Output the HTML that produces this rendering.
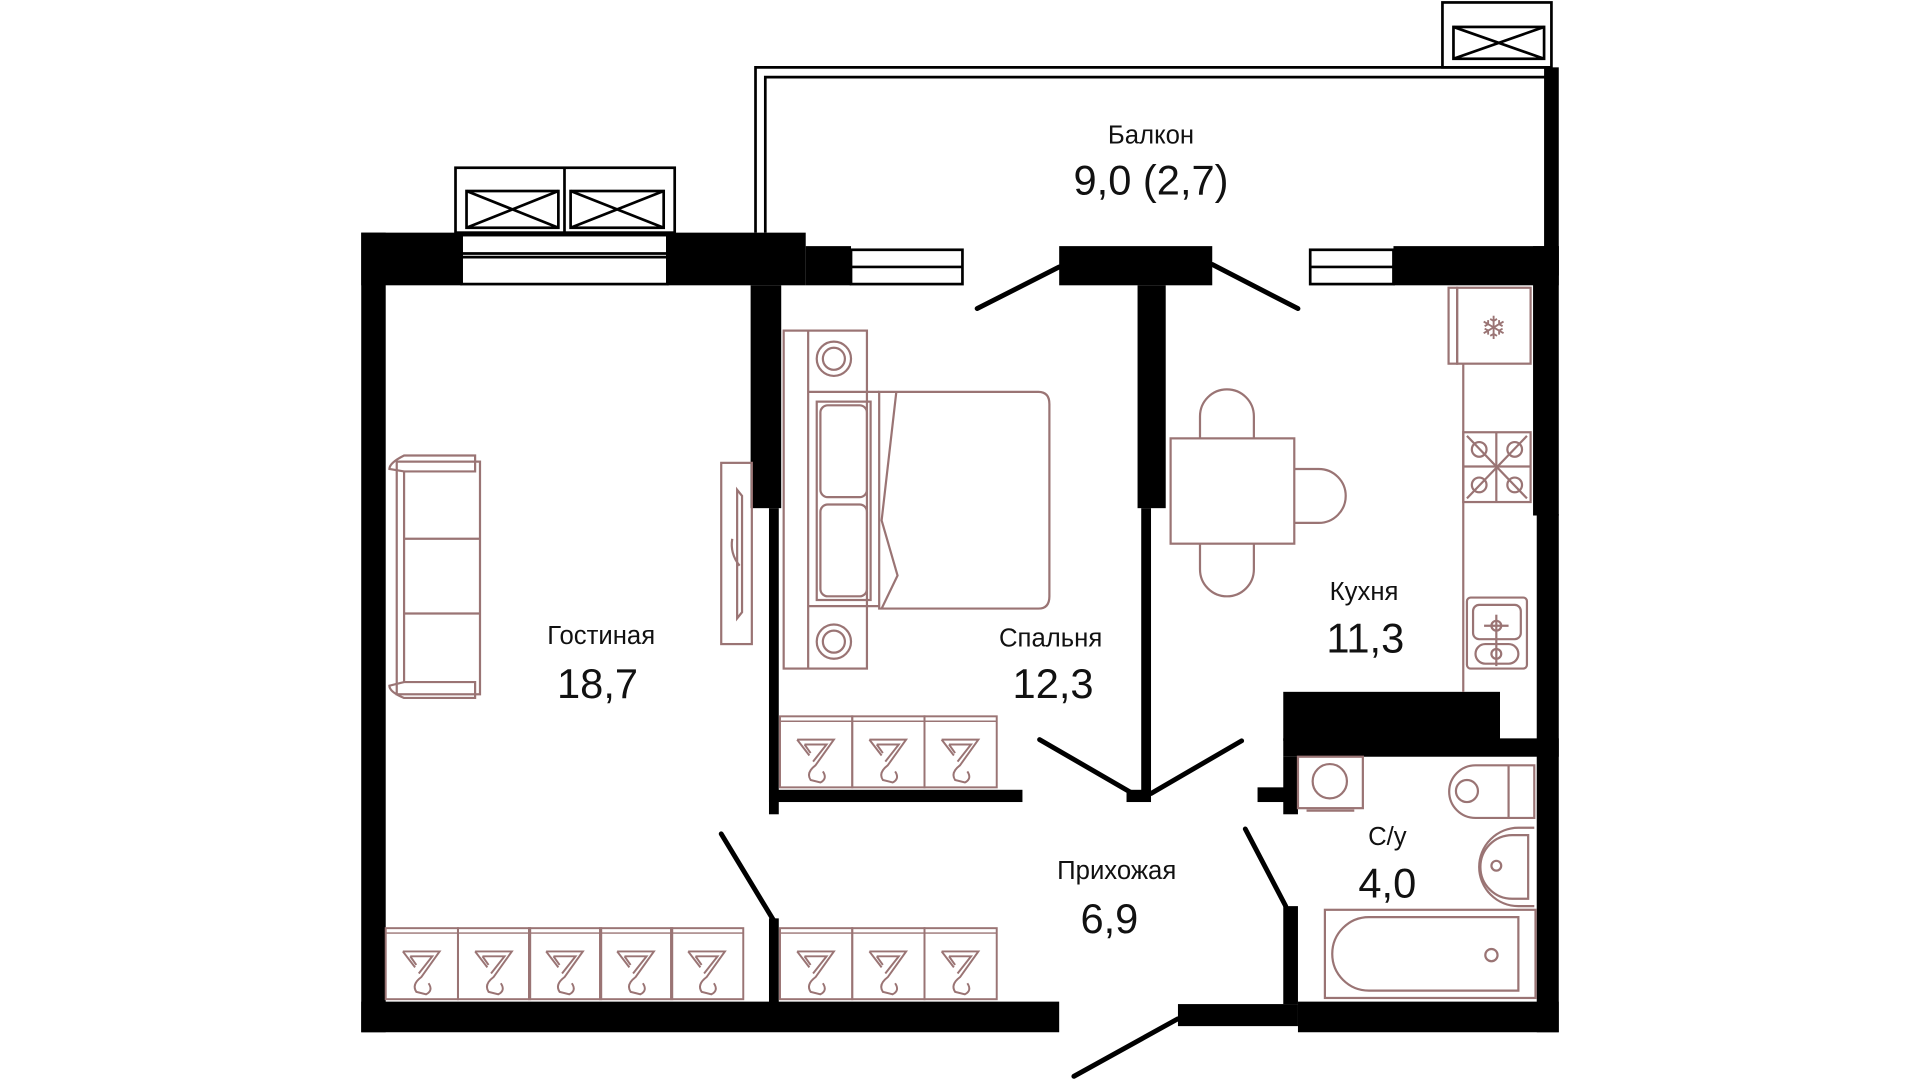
<!DOCTYPE html>
<html><head><meta charset="utf-8"><style>
html,body{margin:0;padding:0;background:#fff;}
svg{display:block;}
text{font-family:"Liberation Sans","DejaVu Sans",sans-serif;fill:#111;}
</style></head><body>
<svg width="1920" height="1080" viewBox="0 0 1568 882" xmlns="http://www.w3.org/2000/svg">
<defs>
<g id="hg" fill="none" stroke="#9a7474" stroke-width="1.6">
<path d="M14,13 H44 L29,34 Q21,40 25,46 L33,48 Q39,45 35,39"/>
<path d="M14,13 L24,26"/>
<path d="M20,17 H38 L27,31 M20,17 L25,24"/>
</g>
<g id="cell"><rect x="0" y="0" width="59" height="58" fill="none" stroke="#9a7474" stroke-width="1.6"/><line x1="0" y1="4" x2="59" y2="4" stroke="#9a7474" stroke-width="1.2"/><use href="#hg" x="0" y="6"/></g>
</defs>

<g fill="none" stroke="#000" stroke-width="2.2">
<path d="M617,190 V55 H1262"/>
<path d="M625,190 V63 H1262"/>
<rect x="1178" y="2" width="89" height="53"/>
<rect x="1187" y="22" width="74" height="26"/>
<path d="M1187,22 L1261,48 M1261,22 L1187,48"/>
<rect x="372" y="137" width="179" height="53"/>
<line x1="461" y1="137" x2="461" y2="190"/>
<rect x="381" y="156" width="75" height="30"/>
<rect x="466" y="156" width="76" height="30"/>
<path d="M381,156 L456,186 M456,156 L381,186 M466,156 L542,186 M542,156 L466,186"/>
<rect x="377" y="192" width="168" height="40"/>
<line x1="377" y1="207" x2="545" y2="207"/><line x1="377" y1="210" x2="545" y2="210"/>
<rect x="695" y="204" width="91" height="28"/><line x1="695" y1="218" x2="786" y2="218"/>
<rect x="1070" y="204" width="68" height="28"/><line x1="1070" y1="218" x2="1138" y2="218"/>
</g>
<rect x="1261" y="55" width="12" height="170" fill="#000"/>

<g fill="#000">
<rect x="295" y="190" width="20" height="653"/>
<rect x="295" y="190" width="82" height="43"/>
<rect x="545" y="190" width="113" height="43"/>
<rect x="658" y="201" width="37" height="32"/>
<rect x="613" y="233" width="25" height="182"/>
<rect x="628" y="415" width="8" height="250"/>
<rect x="628" y="645" width="207" height="10"/>
<rect x="865" y="201" width="125" height="32"/>
<rect x="929" y="233" width="23" height="182"/>
<rect x="932" y="415" width="8" height="235"/>
<rect x="920" y="645" width="20" height="10"/>
<rect x="1138" y="201" width="135" height="32"/>
<rect x="1252" y="201" width="21" height="220"/>
<rect x="1255" y="420" width="18" height="423"/>
<rect x="1048" y="565" width="177" height="40"/>
<rect x="1048" y="603" width="225" height="15"/>
<rect x="1048" y="618" width="12" height="47"/>
<rect x="1027" y="643" width="33" height="12"/>
<rect x="1048" y="740" width="12" height="80"/>
<rect x="1060" y="818" width="213" height="25"/>
<rect x="962" y="820" width="98" height="18"/>
<rect x="295" y="818" width="570" height="25"/>
<rect x="628" y="750" width="8" height="70"/>
</g>
<g stroke="#000" stroke-width="4" stroke-linecap="round">
<line x1="865" y1="218" x2="798" y2="252"/>
<line x1="990" y1="216" x2="1060" y2="252"/>
<line x1="849" y1="604" x2="925" y2="648"/>
<line x1="940" y1="648" x2="1014" y2="605"/>
<line x1="589" y1="681" x2="632" y2="752"/>
<line x1="1017" y1="677" x2="1050" y2="740"/>
<line x1="962" y1="832" x2="877" y2="879"/>
</g>

<g fill="none" stroke="#9a7474" stroke-width="1.8">
<rect x="324" y="377" width="68" height="190"/>
<path d="M318,383 Q318,378 330,372 L388,372 L388,385 L330,385 Z"/>
<path d="M318,560 Q318,565 330,570 L388,570 L388,557 L330,557 Z"/>
<line x1="330" y1="385" x2="330" y2="557"/>
<line x1="330" y1="440" x2="392" y2="440"/><line x1="330" y1="501" x2="392" y2="501"/>
<rect x="589" y="378" width="25" height="148"/>
<path d="M602,400 L606,405 L606,500 L602,505 Z"/>
<path d="M598,440 Q596,452 604,462"/>
<rect x="640" y="270" width="68" height="276"/>
<line x1="660" y1="270" x2="660" y2="546"/>
<line x1="660" y1="320" x2="718" y2="320"/><line x1="660" y1="495" x2="718" y2="495"/>
<circle cx="681" cy="293" r="14"/><circle cx="681" cy="293" r="9"/>
<circle cx="681" cy="524" r="14"/><circle cx="681" cy="524" r="9"/>
<path d="M718,320 H848 Q857,320 857,330 V487 Q857,497 848,497 H718 Z"/>
<rect x="667" y="328" width="44" height="162"/>
<rect x="670" y="331" width="38" height="75" rx="6"/>
<rect x="670" y="412" width="38" height="75" rx="6"/>
<path d="M732,320 L720,425 L733,470 L720,497"/>
<rect x="956" y="358" width="101" height="86"/>
<path d="M980,358 V340 A22,22 0 0 1 1024,340 V358"/>
<path d="M980,444 V465 A22,22 0 0 0 1024,465 V444"/>
<path d="M1057,383 H1077 A22,22 0 0 1 1077,427 H1057"/>
<rect x="1190" y="235" width="60" height="62"/>
<rect x="1183" y="235" width="7" height="62"/>
<line x1="1195" y1="297" x2="1195" y2="565"/>
<rect x="1195" y="353" width="55" height="57"/>
<line x1="1222" y1="353" x2="1222" y2="410"/><line x1="1195" y1="381" x2="1250" y2="381"/>
<circle cx="1208" cy="367" r="6"/><circle cx="1237" cy="367" r="6"/><circle cx="1208" cy="396" r="6"/><circle cx="1237" cy="396" r="6"/>
<line x1="1198" y1="356" x2="1247" y2="407"/><line x1="1247" y1="356" x2="1198" y2="407"/>
<rect x="1198" y="488" width="49" height="58" rx="3"/>
<rect x="1203" y="494" width="39" height="28" rx="5"/>
<rect x="1205" y="526" width="35" height="16" rx="8"/>
<circle cx="1222" cy="511" r="4"/><circle cx="1222" cy="534" r="4"/>
<line x1="1212" y1="511" x2="1232" y2="511"/><line x1="1222" y1="502" x2="1222" y2="544"/>
<rect x="1060" y="618" width="53" height="42"/>
<circle cx="1086" cy="638" r="14"/>
<line x1="1067" y1="662" x2="1106" y2="662"/>
<path d="M1253,625 H1205 A21,21 0 0 0 1205,668 H1253 Z"/>
<line x1="1232" y1="625" x2="1232" y2="668"/>
<circle cx="1198" cy="646" r="9"/>
<path d="M1253,676 H1240 A32,32 0 0 0 1240,740 H1253"/>
<path d="M1248,682 H1235 A26,26 0 0 0 1235,734 H1248 Z"/>
<circle cx="1222" cy="707" r="4"/>
<rect x="1082" y="743" width="172" height="72"/>
<path d="M1240,749 H1118 A30,30 0 0 0 1118,809 H1240 Z"/>
<circle cx="1218" cy="780" r="5"/>
</g>
<text x="1220" y="277" font-size="26" text-anchor="middle" style="fill:#9a7474">❄</text>

<use href="#cell" x="315" y="758"/><use href="#cell" x="374" y="758"/><use href="#cell" x="432" y="758"/><use href="#cell" x="490" y="758"/><use href="#cell" x="548" y="758"/>
<use href="#cell" x="637" y="758"/><use href="#cell" x="696" y="758"/><use href="#cell" x="755" y="758"/>
<use href="#cell" x="637" y="585"/><use href="#cell" x="696" y="585"/><use href="#cell" x="755" y="585"/>

<g text-anchor="middle">
<text x="940" y="117" font-size="21">Балкон</text>
<text x="940" y="159" font-size="34">9,0 (2,7)</text>
<text x="491" y="526" font-size="21">Гостиная</text>
<text x="488" y="570" font-size="34">18,7</text>
<text x="858" y="528" font-size="21">Спальня</text>
<text x="860" y="570" font-size="34">12,3</text>
<text x="1114" y="490" font-size="21">Кухня</text>
<text x="1115" y="533" font-size="34">11,3</text>
<text x="912" y="718" font-size="21">Прихожая</text>
<text x="906" y="762" font-size="34">6,9</text>
<text x="1133" y="690" font-size="21">С/у</text>
<text x="1133" y="733" font-size="34">4,0</text>
</g>
</svg>
</body></html>
